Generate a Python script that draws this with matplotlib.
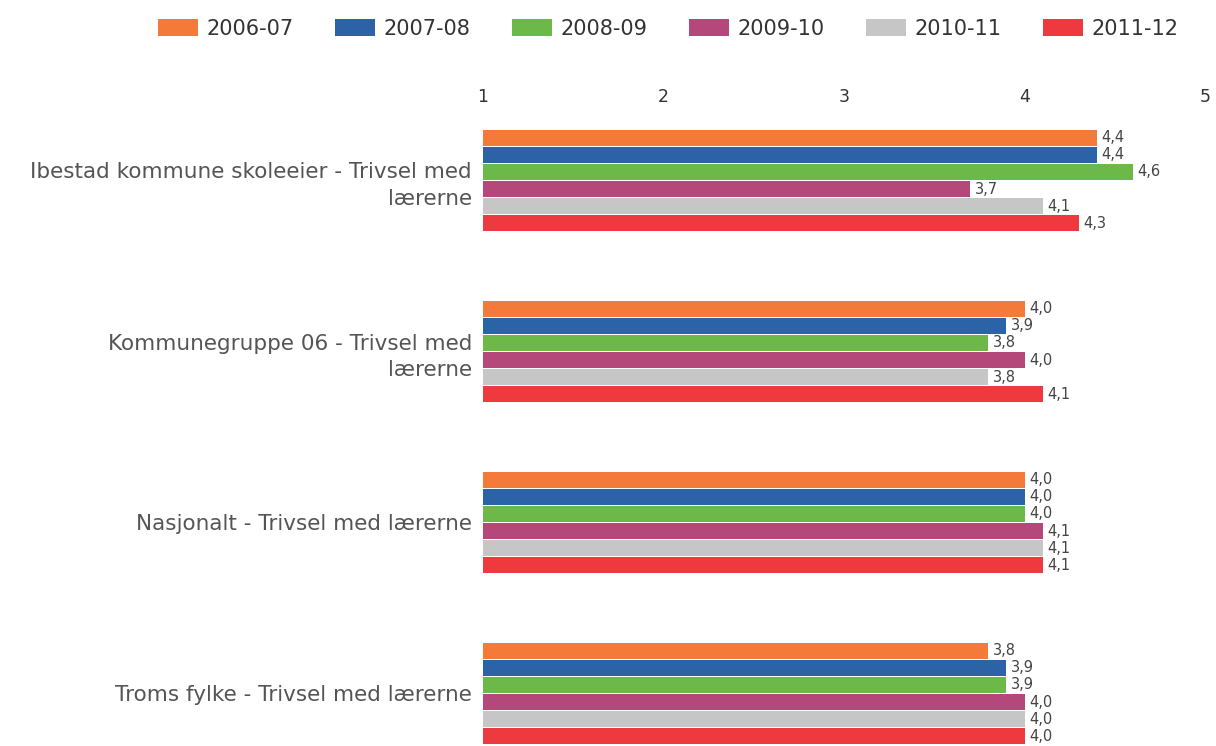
import matplotlib
matplotlib.use("Agg")
import matplotlib.pyplot as plt
from matplotlib.patches import Patch
import numpy as np

categories = [
    "Ibestad kommune skoleeier - Trivsel med\nlærerne",
    "Kommunegruppe 06 - Trivsel med\nlærerne",
    "Nasjonalt - Trivsel med lærerne",
    "Troms fylke - Trivsel med lærerne",
]
series_names = ["2006-07", "2007-08", "2008-09", "2009-10", "2010-11", "2011-12"]
v_2006_07 = [4.4, 4.0, 4.0, 3.8]
v_2007_08 = [4.4, 3.9, 4.0, 3.9]
v_2008_09 = [4.6, 3.8, 4.0, 3.9]
v_2009_10 = [3.7, 4.0, 4.1, 4.0]
v_2010_11 = [4.1, 3.8, 4.1, 4.0]
v_2011_12 = [4.3, 4.1, 4.1, 4.0]
series_values = [v_2006_07, v_2007_08, v_2008_09, v_2009_10, v_2010_11, v_2011_12]
colors = ["#F47A3A", "#2C62A6", "#6CB848", "#B5487A", "#C6C6C6", "#EE3A3E"]
xticks = [1, 2, 3, 4, 5]

fig = plt.figure(figsize=(12.16, 7.46), dpi=100)
ax = fig.add_axes([483/1216, 1 - 779/746, (1205-483)/1216, 684/746])

n = len(series_names)
pitch = 0.1
h = 0.092
y = np.arange(len(categories))
for i, (name, vals, c) in enumerate(zip(series_names, series_values, colors)):
    pos = y - pitch * (n - 1) / 2 + i * pitch
    ax.barh(pos, np.array(vals) - 1, left=1, height=h, color=c, label=name)
    for p, v in zip(pos, vals):
        ax.text(v + 0.025, p, f"{v:.1f}".replace(".", ","), va="center", ha="left",
                fontsize=10.5, color="#444444")

ax.set_xlim(1, 5)
ax.set_ylim(len(categories) - 0.5, -0.5)
ax.xaxis.tick_top()
ax.set_xticks(xticks)
ax.set_xticklabels([str(t) for t in xticks])
ax.tick_params(axis="x", length=0, pad=-8, labelsize=12.5, labelcolor="#333333")
ax.set_yticks(y)
ax.set_yticklabels(categories, fontsize=15.5, color="#555555", ha="right", linespacing=1.4)
ax.tick_params(axis="y", length=0, pad=8)
for lbl in ax.get_yticklabels():
    lbl.set_y(lbl.get_position()[1])
for s in ax.spines.values():
    s.set_visible(False)

handles = [Patch(facecolor=c, edgecolor="none") for c in colors]
fig.legend(handles, series_names, loc="center", bbox_to_anchor=(668/1216, 1 - 29/746),
           ncol=6, frameon=False, fontsize=15, handlelength=1.92, handleheight=0.85,
           columnspacing=2.0, handletextpad=0.4, labelcolor="#333333")

fig.savefig("out.png", dpi=100)
